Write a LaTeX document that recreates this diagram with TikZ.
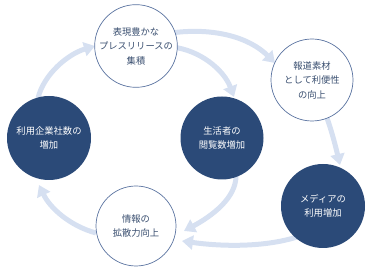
\documentclass[tikz,border=0pt]{standalone}
\usepackage{fontspec}
\setmainfont{Noto Sans CJK JP}
\usetikzlibrary{arrows.meta}
\definecolor{navy}{HTML}{2B4A78}
\definecolor{lite}{HTML}{D6E0F1}
\definecolor{rim}{HTML}{5A73A0}
\definecolor{txt}{HTML}{3A4F70}
\tikzset{
  lightbub/.style={circle, draw=rim, line width=0.7pt, fill=white, minimum size=#1, inner sep=0pt, align=center, text=txt, font=\fontsize{9.3}{14.5}\selectfont},
  darkbub/.style={circle, fill=navy, minimum size=#1, inner sep=0pt, align=center, text=white, font=\fontsize{9.3}{14.5}\selectfont},
  flow/.style={draw=lite, line width=5pt, -{Triangle[width=14pt,length=11pt]}}
}
\begin{document}
\begin{tikzpicture}[x=1pt,y=-1pt]
\useasboundingbox (0,0) rectangle (373,272);
% connector anchors
\coordinate (a1s) at (171,33);  \coordinate (a1e) at (275,63);
\coordinate (a2s) at (172,47);  \coordinate (a2e) at (234,97);
\coordinate (a3s) at (327,118); \coordinate (a3e) at (340,165);
\coordinate (a4s) at (300,236); \coordinate (a4e) at (182,241);
\coordinate (a5s) at (236,176); \coordinate (a5e) at (184,231);
\coordinate (a6s) at (96,233);  \coordinate (a6e) at (39,185);
\coordinate (a7s) at (38,98);   \coordinate (a7e) at (95,46);
% arrows
\draw[flow] (a1s) .. controls (215,27) and (250,38) .. (a1e);
\draw[flow] (a2s) .. controls (200,50) and (224,70) .. (a2e);
\draw[flow] (a3s) .. controls (332,132) and (336,148) .. (a3e);
\draw[flow] (a4s) .. controls (268,247) and (225,247) .. (a4e);
\draw[flow] (a5s) .. controls (236,198) and (212,216) .. (a5e);
\draw[flow] (a6s) .. controls (70,226) and (50,208) .. (a6e);
\draw[flow] (a7s) .. controls (44,74) and (68,54) .. (a7e);
% bubbles
\node[lightbub=80pt] (A) at (136,46) {表現豊かな\\プレスリリースの\\集積};
\node[lightbub=82pt] (B) at (312,80) {報道素材\\として利便性\\の向上};
\node[darkbub=84pt] (C) at (49,138) {利用企業社数の\\増加};
\node[darkbub=83pt] (D) at (222,138) {生活者の\\閲覧数増加};
\node[darkbub=84pt] (E) at (323,206) {メディアの\\利用増加};
\node[lightbub=80pt] (F) at (136,226) {情報の\\拡散力向上};
\end{tikzpicture}
\end{document}
